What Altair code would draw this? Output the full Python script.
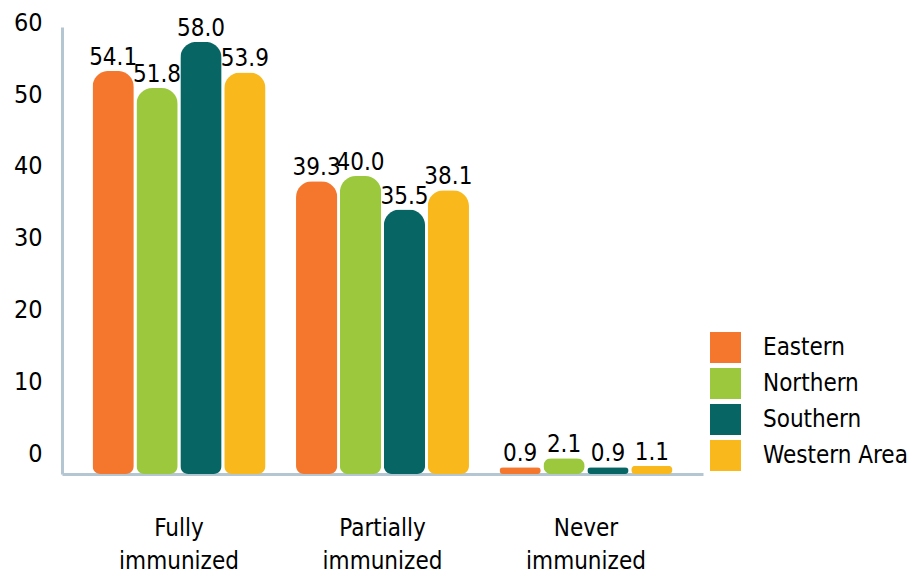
import altair as alt
import pandas as pd

# Immunization status by region (%)
statuses = ["Fully immunized", "Partially immunized", "Never immunized"]
regions = ["Eastern", "Northern", "Southern", "Western Area"]
eastern = [54.1, 39.3, 0.9]
northern = [51.8, 40.0, 2.1]
southern = [58.0, 35.5, 0.9]
western = [53.9, 38.1, 1.1]
colors = ["#F4772D", "#9BC83D", "#076663", "#F9B81B"]

rows = []
for region, vals in zip(regions, [eastern, northern, southern, western]):
    for status, v in zip(statuses, vals):
        rows.append({"status": status, "region": region, "value": v,
                     "label": f"{v:.1f}"})
df = pd.DataFrame(rows)

FONT = "DejaVu Sans Condensed, Open Sans, sans-serif"
AXIS_COLOR = "#B3C6D1"

x = alt.X("status:N", sort=statuses, title=None,
          scale=alt.Scale(paddingInner=0.15, paddingOuter=0.15),
          axis=alt.Axis(labelExpr="split(datum.label, ' ')", labelAngle=0,
                        labelFontSize=24, labelFont=FONT, labelColor="#000",
                        labelLineHeight=33, labelPadding=42, ticks=False,
                        domainColor=AXIS_COLOR, domainWidth=3))
y = alt.Y("value:Q", title=None,
          scale=alt.Scale(domain=[0, 60], nice=False),
          axis=alt.Axis(values=[0, 10, 20, 30, 40, 50, 60], grid=False,
                        ticks=False, labelFontSize=25, labelFont=FONT,
                        labelColor="#000", labelPadding=20,
                        labelOffset={"expr": "-21 + datum.value * 0.27"},
                        domainColor=AXIS_COLOR, domainWidth=3))
xo = alt.XOffset("region:N", sort=regions,
                 scale=alt.Scale(paddingInner=0.06))
color = alt.Color("region:N", sort=regions,
                  scale=alt.Scale(domain=regions, range=colors),
                  legend=alt.Legend(title=None, orient="none", legendX=648,
                                    legendY=305, symbolType="square",
                                    symbolSize=961, symbolStrokeWidth=0,
                                    symbolOpacity=1, labelFontSize=24,
                                    labelFont=FONT, labelColor="#000",
                                    rowPadding=5, labelOffset=22,
                                    padding=0))

bars = alt.Chart(df).mark_bar(
    cornerRadiusTopLeft=16, cornerRadiusTopRight=16,
    cornerRadiusBottomLeft=8, cornerRadiusBottomRight=8, opacity=1
).encode(x=x, xOffset=xo, y=y, color=color)

texts = alt.Chart(df).mark_text(
    baseline="bottom", dy=-1, fontSize=24, font=FONT, color="#000"
).encode(x=x, xOffset=xo, y=y, text="label:N")

chart = (bars + texts).properties(
    width=641, height=447,
    padding={"left": 62, "top": 27, "right": 216, "bottom": 99},
    autosize=alt.AutoSizeParams(type="none"),
).configure(background="white").configure_view(stroke=None)

chart.save("out.html", embed_options={"renderer": "svg", "actions": False})
